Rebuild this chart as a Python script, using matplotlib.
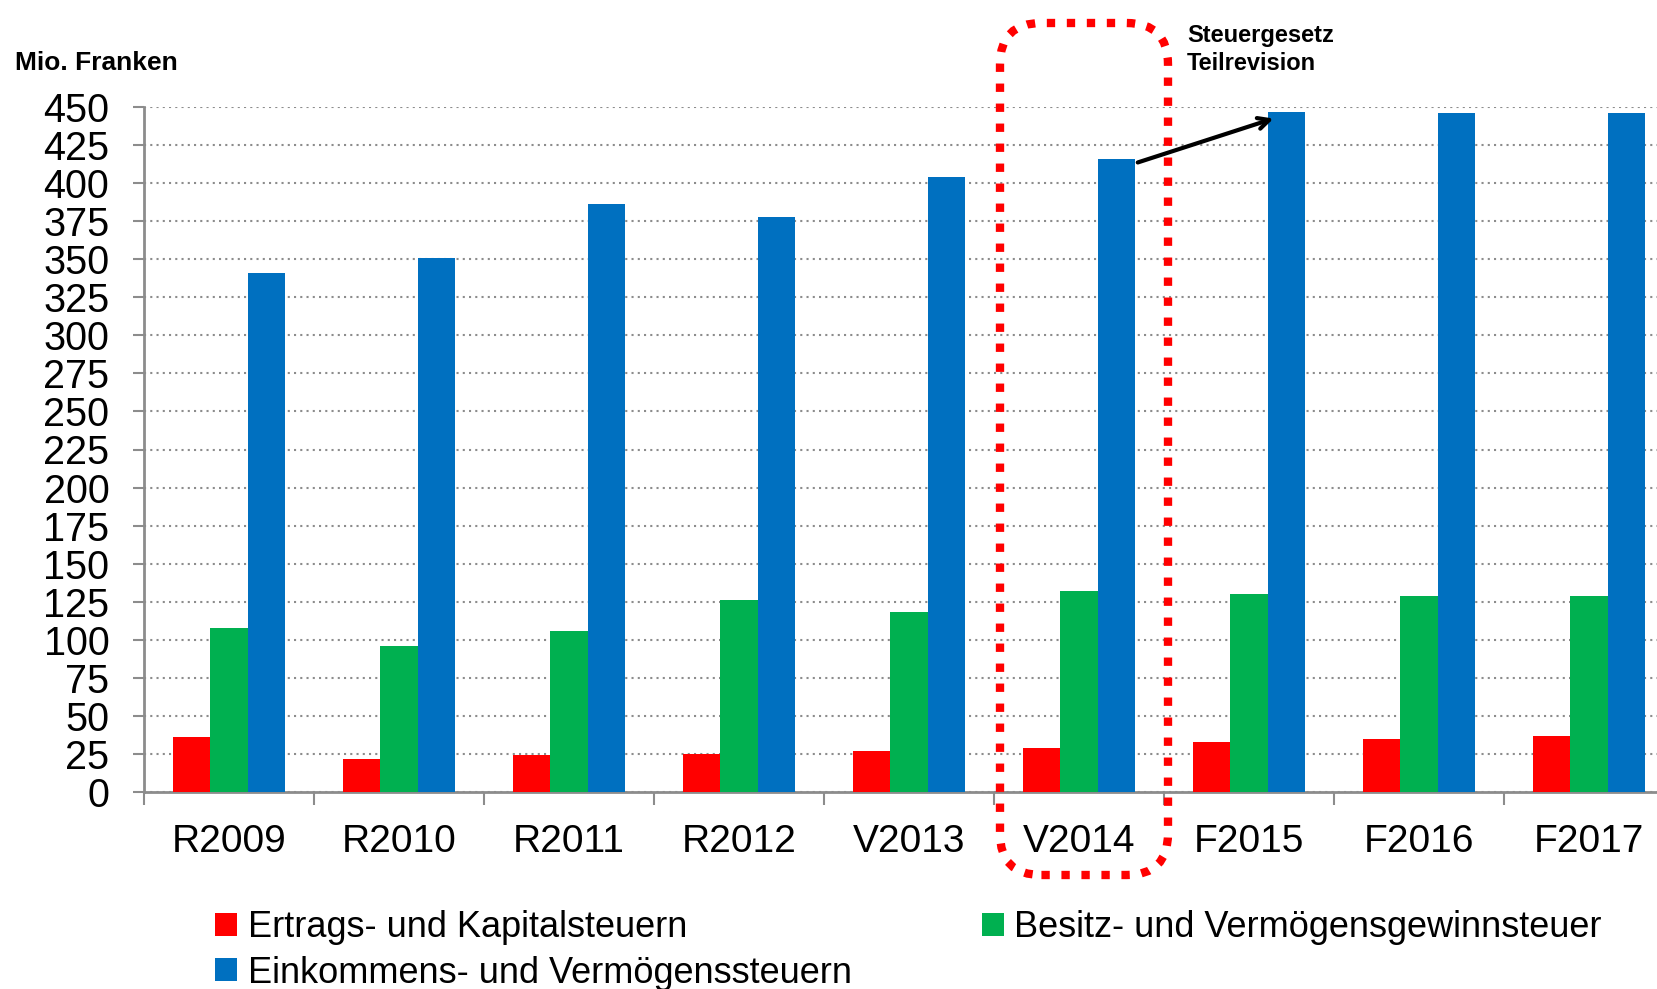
import numpy as np
import matplotlib
matplotlib.use("Agg")
import matplotlib.pyplot as plt
from matplotlib.patches import FancyBboxPatch

plt.rcParams['font.family'] = ['Liberation Sans', 'DejaVu Sans']

# data
jahre = ['R2009', 'R2010', 'R2011', 'R2012', 'V2013', 'V2014', 'F2015', 'F2016', 'F2017']
ertrag = [36, 22, 24, 25, 27, 29, 33, 35, 37]
besitz = [108, 96, 106, 126, 118, 132, 130, 129, 129]
einkommen = [341, 351, 386, 378, 404, 416, 447, 446, 446]
y_ticks = list(range(0, 451, 25))

rot = '#FF0000'
gruen = '#00B050'
blau = '#0070C0'
grau = '#8C8C8C'

fig = plt.figure(figsize=(16.57, 9.89), dpi=100)
ax = fig.add_axes([144 / 1657, 1 - 792 / 989, 1 - 144 / 1657, (792 - 107) / 989])

x = np.arange(len(jahre))
w = 0.22
b1 = ax.bar(x - w, ertrag, w, color=rot, zorder=3, label='Ertrags- und Kapitalsteuern')
b2 = ax.bar(x, besitz, w, color=gruen, zorder=3, label='Besitz- und Vermögensgewinnsteuer')
b3 = ax.bar(x + w, einkommen, w, color=blau, zorder=3, label='Einkommens- und Vermögenssteuern')

ax.set_yticks(y_ticks)
ax.set_yticklabels([str(v) for v in y_ticks], fontsize=28.5)
ax.yaxis.grid(True, linestyle=(0, (1, 2)), color=grau, linewidth=1.5, zorder=0)
ax.tick_params(axis='y', length=8, width=1.5, color=grau, pad=17)

ax.set_xticks(x)
ax.set_xticklabels(jahre, fontsize=28)
ax.set_xticks(np.arange(-0.5, len(jahre) - 1, 1), minor=True)
ax.tick_params(axis='x', which='major', length=0, pad=23)
ax.tick_params(axis='x', which='minor', length=9, width=1.5, color=grau)

# limits after the ticks, so set_xticks does not widen them
ax.set_xlim(-0.5, 8.40)
ax.set_ylim(0, 450)

for s in ['top', 'right']:
    ax.spines[s].set_visible(False)
for s in ['left', 'bottom']:
    ax.spines[s].set_color(grau)
    ax.spines[s].set_linewidth(2)

fig.text(15 / 1657, 1 - 70 / 989, 'Mio. Franken', fontsize=19, fontweight='bold')
fig.text(1187 / 1657, 1 - 70 / 989, 'Steuergesetz\nTeilrevision', fontsize=17,
         fontweight='bold', linespacing=1.3)

# red dotted box around V2014
x0 = 1000 / 1657
x1 = 1168 / 1657
y0 = 1 - 875 / 989
y1 = 1 - 23 / 989
box = FancyBboxPatch((x0, y0), x1 - x0, y1 - y0,
                     boxstyle='round,pad=0,rounding_size=0.025', transform=fig.transFigure,
                     fill=False, edgecolor=rot, linewidth=6, linestyle=(0, (1, 1.4)),
                     mutation_aspect=1657 / 989, clip_on=False, zorder=5)
fig.patches.append(box)

ax.annotate('', xy=(6.16, 443), xytext=(5.33, 413),
            arrowprops=dict(arrowstyle='->,head_length=0.8,head_width=0.4', color='black', lw=3),
            zorder=6)

fig.legend([b1, b3, b2], [b1.get_label(), b3.get_label(), b2.get_label()],
           loc='upper left', bbox_to_anchor=(201 / 1657, 1 - 896 / 989), ncol=2,
           frameon=False, fontsize=26, handlelength=0.6, handleheight=0.6,
           handletextpad=0.3, labelspacing=0.28, columnspacing=3.6, borderaxespad=0)

fig.savefig('out.png', dpi=100)
